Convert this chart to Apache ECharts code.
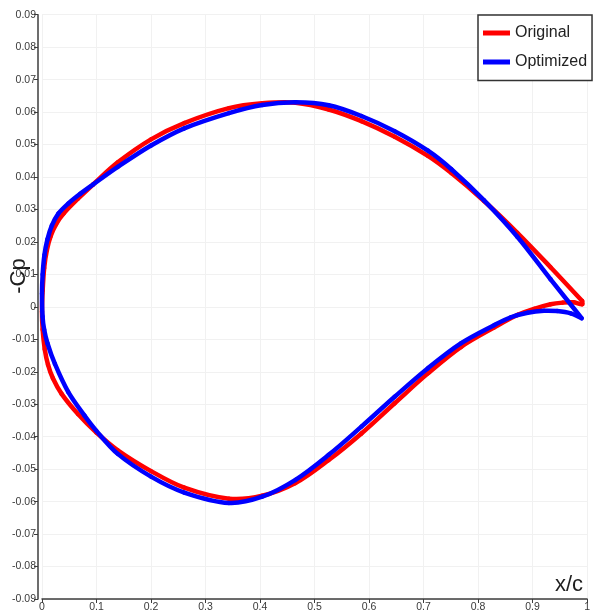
<!DOCTYPE html>
<html>
<head>
<meta charset="utf-8">
<script src="https://cdn.jsdelivr.net/npm/echarts@6/dist/echarts.min.js"></script>
<style>
  html, body { margin: 0; padding: 0; background: #fff; }
  #chart { width: 593px; height: 613px; }
</style>
</head>
<body>
<div id="chart"></div>
<script>
// Original section: trailing edge -> upper side -> leading edge -> lower side -> trailing edge.
const origX = [0.991, 0.933, 0.872, 0.811, 0.751, 0.708, 0.647, 0.586, 0.526, 0.465,
  0.404, 0.343, 0.261, 0.200, 0.139, 0.0937, 0.066, 0.040, 0.026, 0.016, 0.009, 0.004, 0.0012,
  0.0000,
  0.0012, 0.0050, 0.0110, 0.0200, 0.036, 0.066, 0.0998, 0.139, 0.200, 0.261, 0.343,
  0.404, 0.465, 0.526, 0.586, 0.647, 0.708, 0.769, 0.830, 0.872, 0.903, 0.933, 0.955, 0.975, 0.991, 0.991];
const origY = [0.0018, 0.0122, 0.0228, 0.0326, 0.0412, 0.0465, 0.0524, 0.0572, 0.0608, 0.0629,
  0.0627, 0.0612, 0.0566, 0.0516, 0.0445, 0.0377, 0.0333, 0.0288, 0.0255, 0.0218, 0.0175, 0.0120, 0.0050,
  -0.0015,
  -0.0070, -0.0130, -0.0178, -0.0220, -0.0268, -0.0330, -0.0387, -0.0442, -0.0506, -0.0557, -0.0591,
  -0.0582, -0.0543, -0.0472, -0.0390, -0.0297, -0.0205, -0.0123, -0.0063, -0.0025, -0.0006, 0.0008, 0.0013, 0.0014, 0.0008, 0.0018];

// Optimized section, same traversal order.
const optX = [0.990, 0.933, 0.872, 0.811, 0.751, 0.708, 0.647, 0.586, 0.526, 0.465,
  0.404, 0.343, 0.261, 0.200, 0.139, 0.0937, 0.070, 0.048, 0.030, 0.018, 0.010, 0.0045, 0.0012,
  0.0000,
  0.0010, 0.0040, 0.0100, 0.0237, 0.048, 0.078, 0.0998, 0.139, 0.200, 0.261, 0.343,
  0.404, 0.465, 0.526, 0.586, 0.647, 0.708, 0.769, 0.830, 0.860, 0.891, 0.921, 0.945, 0.970, 0.990];
const optY = [-0.0035, 0.0085, 0.0216, 0.0328, 0.0424, 0.0481, 0.0541, 0.0588, 0.0621, 0.0630,
  0.0622, 0.0597, 0.0550, 0.0497, 0.0431, 0.0377, 0.0348, 0.0318, 0.0287, 0.0250, 0.0208, 0.0160, 0.0100,
  0.0040,
  -0.0030, -0.0070, -0.0112, -0.0176, -0.0262, -0.0335, -0.0382, -0.0453, -0.0523, -0.0572, -0.0604,
  -0.0585, -0.0533, -0.0456, -0.0369, -0.0277, -0.0189, -0.0112, -0.0056, -0.0032, -0.0018, -0.0012, -0.0013, -0.0020, -0.0035];

const seriesNames = ['Original', 'Optimized'];
const seriesColors = ['#ff0000', '#0000ff'];
const xRange = [0, 1];
const xStep = 0.1;
const yRange = [-0.09, 0.09];
const yStep = 0.01;

const pairs = (xs, ys) => xs.map((x, i) => [x, ys[i]]);
const sections = [pairs(origX, origY), pairs(optX, optY)];

// Each item draws the cubic piece from its point to the next one, with
// chord-length tangents so the curve passes through every sample smoothly.
function renderSegment(params, api) {
  const pts = sections[params.seriesIndex];
  const i = params.dataIndex;
  const n = pts.length;
  if (i >= n - 1) return null;
  const P = k => api.coord(pts[Math.max(0, Math.min(n - 1, k))]);
  const p0 = P(i - 1), p1 = P(i), p2 = P(i + 1), p3 = P(i + 2);
  const dist = (a, b) => Math.hypot(b[0] - a[0], b[1] - a[1]) || 1e-6;
  const d01 = i === 0 ? 0 : dist(p0, p1);
  const d12 = dist(p1, p2);
  const d23 = i + 2 > n - 1 ? 0 : dist(p2, p3);
  const tangent = (a, b, c, dPrev, dNext) => {
    if (dPrev === 0) return [(c[0] - b[0]) / dNext, (c[1] - b[1]) / dNext];
    if (dNext === 0) return [(b[0] - a[0]) / dPrev, (b[1] - a[1]) / dPrev];
    return [(c[0] - a[0]) / (dPrev + dNext), (c[1] - a[1]) / (dPrev + dNext)];
  };
  const m1 = tangent(p0, p1, p2, d01, d12);
  const m2 = tangent(p1, p2, p3, d12, d23);
  return {
    type: 'bezierCurve',
    shape: {
      x1: p1[0], y1: p1[1], x2: p2[0], y2: p2[1],
      cpx1: p1[0] + m1[0] * d12 / 3, cpy1: p1[1] + m1[1] * d12 / 3,
      cpx2: p2[0] - m2[0] * d12 / 3, cpy2: p2[1] - m2[1] * d12 / 3
    },
    style: { stroke: seriesColors[params.seriesIndex], lineWidth: 4.5, fill: null, lineCap: 'round' },
    silent: true
  };
}

const chart = echarts.init(document.getElementById('chart'), null, { renderer: 'canvas' });

const axisText = { color: '#3a3a3a', fontSize: 10.5, fontFamily: '"Liberation Sans Narrow", "Liberation Sans", Arial, sans-serif' };
const faintGrid = { show: true, lineStyle: { color: '#f1f1f1', width: 1 } };
const bodyFont = '"Liberation Sans", Arial, sans-serif';

chart.setOption({
  animation: false,
  backgroundColor: '#ffffff',
  grid: { left: 42, top: 14.7, width: 548, height: 584.3, containLabel: false },
  xAxis: {
    type: 'value',
    min: xRange[0], max: xRange[1], interval: xStep,
    axisLine: { show: true, onZero: false, lineStyle: { color: '#3c3c3c', width: 1.5 } },
    axisTick: { show: true, length: 4, lineStyle: { color: '#3c3c3c' } },
    axisLabel: Object.assign({ margin: 3, formatter: v => String(Number(v.toFixed(1))) }, axisText),
    splitLine: faintGrid
  },
  yAxis: {
    type: 'value',
    offset: 4,
    min: yRange[0], max: yRange[1], interval: yStep,
    axisLine: { show: true, onZero: false, lineStyle: { color: '#3c3c3c', width: 1.5 } },
    axisTick: { show: true, length: 4, lineStyle: { color: '#3c3c3c' } },
    axisLabel: Object.assign({ margin: 2, formatter: v => String(Number(v.toFixed(2))) }, axisText),
    splitLine: faintGrid
  },
  legend: {
    orient: 'vertical',
    left: 478, top: 15,
    padding: [9.5, 5, 10, 5],
    itemGap: 12,
    itemWidth: 27, itemHeight: 5,
    icon: 'rect',
    backgroundColor: '#ffffff',
    borderColor: '#333333',
    borderWidth: 1.5,
    borderRadius: 0,
    textStyle: { fontSize: 16, lineHeight: 17, color: '#222', fontFamily: bodyFont },
    data: seriesNames
  },
  graphic: [
    {
      type: 'text',
      x: 19, y: 276,
      rotation: Math.PI / 2,
      style: { text: '-Cp', fontSize: 22, fill: '#1e1e1e', fontFamily: bodyFont,
               align: 'center', verticalAlign: 'middle' }
    },
    {
      type: 'text',
      x: 569, y: 585,
      style: { text: 'x/c', fontSize: 22, fill: '#1e1e1e', fontFamily: bodyFont,
               align: 'center', verticalAlign: 'middle' }
    }
  ],
  series: seriesNames.map((name, s) => ({
    name: name,
    type: 'custom',
    coordinateSystem: 'cartesian2d',
    data: sections[s],
    encode: { x: 0, y: 1 },
    renderItem: renderSegment,
    clip: false,
    itemStyle: { color: seriesColors[s] }
  }))
});
</script>
</body>
</html>
